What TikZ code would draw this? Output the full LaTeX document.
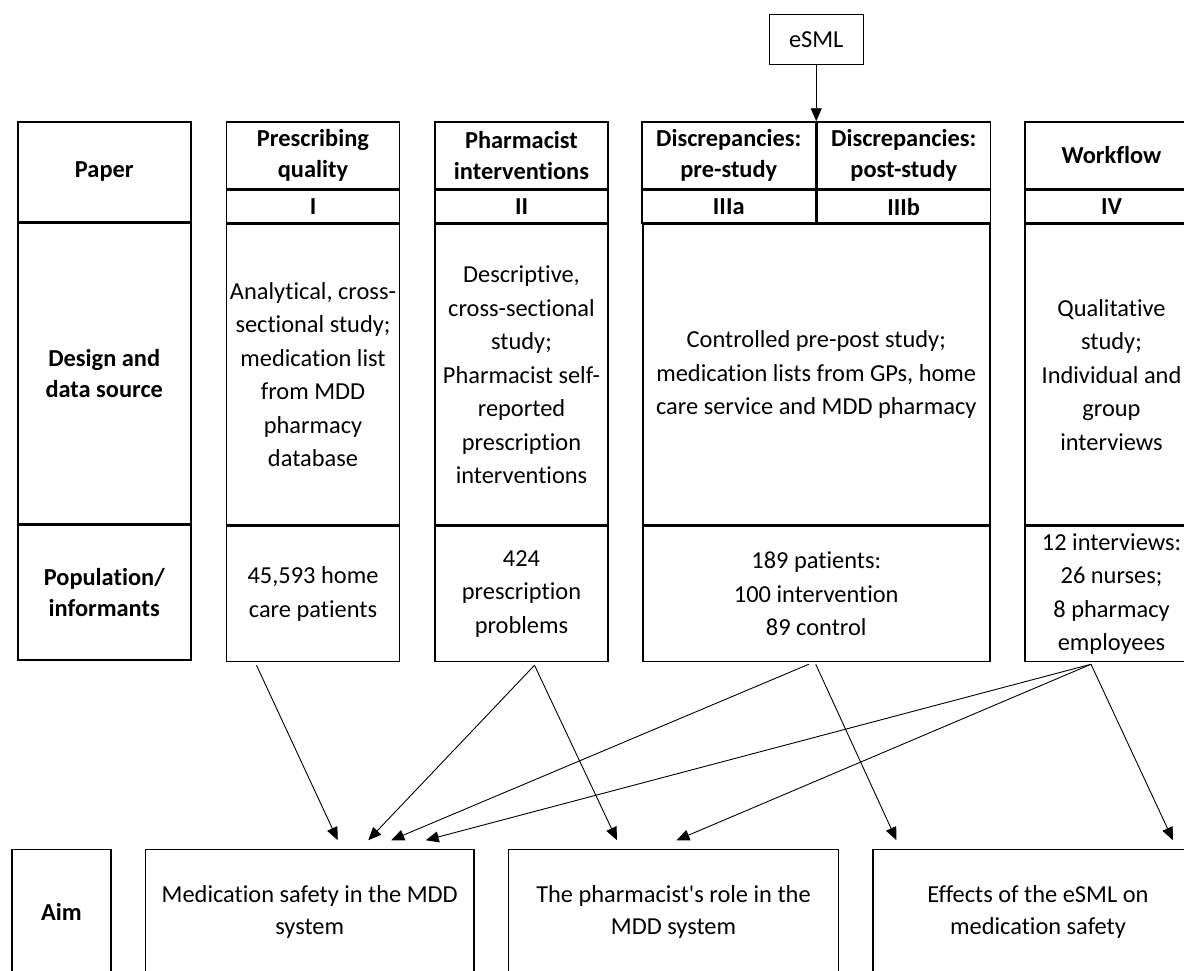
\documentclass[tikz,border=0pt]{standalone}
\usepackage{fontspec}
\setmainfont{Carlito}[Ligatures={NoCommon}]
\usetikzlibrary{arrows.meta, positioning}

\tikzset{
  box/.style={draw, line width=1.5pt, align=center, inner sep=2pt, minimum width=#1},
  box/.default=173pt,
  head/.style={box=#1, font=\fontsize{24.4}{31.5}\selectfont\bfseries},
  head/.default=173pt,
  body/.style={box=#1, font=\fontsize{24.4}{33.5}\selectfont},
  body/.default=173pt,
  aimbox/.style={box=#1, minimum height=125pt, font=\fontsize{24.4}{31.5}\selectfont},
  arr/.style={-{Triangle[length=13pt,width=11pt]}, line width=0.9pt}
}

\begin{document}
\begin{tikzpicture}[x=1pt, y=-1pt, node distance=0pt]
        \useasboundingbox (0,0) rectangle (1184,970);
        \clip (0,0) rectangle (1184,970);

        % row labels
        \node (pap) [head, minimum height=99.7pt] at (104.25,171.85) {Paper};
        \node (des) [head, minimum height=300.3pt, below=of pap] {Design and\\data source};
        \node (pop) [head, minimum height=135pt, below=of des] {Population/\\informants};

        % paper I
        \node (t1) [head, minimum height=67pt] at (313,155.5) {Prescribing\\quality};
        \node (n1) [head, minimum height=32.7pt, below=of t1] {I};
        \node (d1) [body, minimum height=300.3pt, below=of n1] {Analytical, cross-\\sectional study;\\medication list\\from MDD\\pharmacy\\database};
        \node (p1) [body, minimum height=135pt, below=of d1] {45,593 home\\care patients};

        % paper II
        \node (t2) [head, minimum height=67pt] at (521.5,155.5) {Pharmacist\\interventions};
        \node (n2) [head, minimum height=32.7pt, below=of t2] {II};
        \node (d2) [body, minimum height=300.3pt, below=of n2] {Descriptive,\\cross-sectional\\study;\\Pharmacist self-\\reported\\prescription\\interventions};
        \node (p2) [body, minimum height=135pt, below=of d2] {424\\prescription\\problems};

        % paper III
        \node (t3a) [head=173.5pt, minimum height=67pt] at (728.75,155.5) {Discrepancies:\\pre-study};
        \node (t3b) [head=173.5pt, minimum height=67pt, right=of t3a] {Discrepancies:\\post-study};
        \node (n3a) [head=173.5pt, minimum height=32.7pt, below=of t3a] {IIIa};
        \node (n3b) [head=173.5pt, minimum height=32.7pt, below=of t3b] {IIIb};
        \node (d3) [body=347pt, minimum height=300.3pt, below=of n3a.south east] {Controlled pre-post study;\\medication lists from GPs, home\\care service and MDD pharmacy};
        \node (p3) [body=347pt, minimum height=135pt, below=of d3] {189 patients:\\100 intervention\\89 control};

        % paper IV
        \node (t4) [head, minimum height=67pt] at (1111.5,155.5) {Workflow};
        \node (n4) [head, minimum height=32.7pt, below=of t4] {IV};
        \node (d4) [body, minimum height=300.3pt, below=of n4] {Qualitative\\study;\\Individual and\\group\\interviews};
        \node (p4) [body, minimum height=135pt, below=of d4] {12 interviews:\\26 nurses;\\8 pharmacy\\employees};

        \node (esml) [body=94pt, minimum height=50pt, above=56pt of t3a.north east] {eSML};

        % aims
        \node (aim) [head=99pt, minimum height=125pt] at (61.5,912) {Aim};
        \node (a1) [aimbox=328.5pt, right=33pt of aim] {Medication safety in the MDD\\system};
        \node (a2) [aimbox=330pt, right=33pt of a1] {The pharmacist\textquotesingle s role in the\\MDD system};
        \node (a3) [aimbox=330pt, right=33pt of a2] {Effects of the eSML on\\medication safety};

        \path [arr]
            (esml) edge (t3a.north east)
            ([xshift=-56.5pt,yshift=-3pt]p1.south) edge ([xshift=28pt,yshift=8.5pt]a1.north)
            ([xshift=13pt,yshift=-3pt]p2.south) edge ([xshift=58.5pt,yshift=8.5pt]a1.north)
            ([xshift=13pt,yshift=-3pt]p2.south) edge ([xshift=-56.5pt,yshift=8.5pt]a2.north)
            ([xshift=-7.5pt,yshift=-2pt]p3.south) edge ([xshift=81.5pt,yshift=8.5pt]a1.north)
            ([xshift=-0.5pt,yshift=-2pt]p3.south) edge ([xshift=-141.5pt,yshift=8.5pt]a3.north)
            ([xshift=-20.5pt,yshift=-2pt]p4.south) edge ([xshift=116pt,yshift=8.5pt]a1.north)
            ([xshift=-20.5pt,yshift=-2pt]p4.south) edge ([xshift=3pt,yshift=8.5pt]a2.north)
            ([xshift=-20.5pt,yshift=-2pt]p4.south) edge ([xshift=135pt,yshift=8.5pt]a3.north)
            ;
    \end{tikzpicture}
\end{document}
